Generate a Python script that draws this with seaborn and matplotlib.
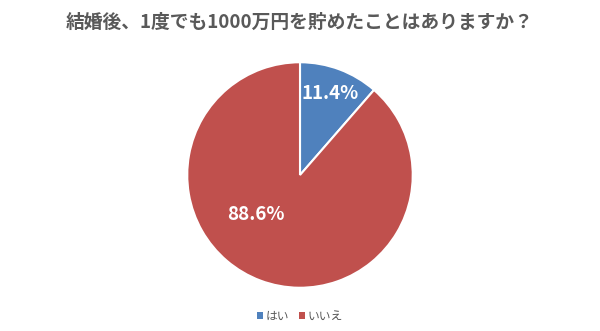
import matplotlib
matplotlib.use("Agg")
import matplotlib.pyplot as plt
import seaborn as sns
import numpy as np
from matplotlib.patches import Patch

categories = ["はい", "いいえ"]
values = [11.4, 88.6]
colors = ["#4F81BD", "#C0504D"]
title = "結婚後、1度でも1000万円を貯めたことはありますか？"

sns.set_theme(style="white")
plt.rcParams['font.family'] = ['Noto Sans CJK JP', 'DejaVu Sans']

fig = plt.figure(figsize=(6.0, 3.31), dpi=100)
W, H = 600, 331
cx, cy, r = 300, 175, 115
ax = fig.add_axes([(cx - r) / W, (H - cy - r) / H, 2 * r / W, 2 * r / H])
wedges, texts, autotexts = ax.pie(
    values, colors=colors, startangle=90, counterclock=False,
    radius=1.0, autopct=lambda p: f"{p:.1f}%", pctdistance=0.77,
    wedgeprops=dict(edgecolor="white", linewidth=1.5),
    textprops=dict(color="white", fontsize=13.5, fontweight="bold"))
ax.set_xlim(-1.02, 1.02)
ax.set_ylim(-1.02, 1.02)
ax.set_aspect("equal")
ax.axis("off")
# move the large-slice label like Excel's best fit
autotexts[1].set_position((-0.39, -0.35))

fig.text(0.5, 1 - 22 / H, title, ha="center", va="center",
         fontsize=13.5, fontweight="bold", color="#595959")

handles = [Patch(facecolor=c, edgecolor="none") for c in colors]
fig.legend(handles, categories, loc="center", bbox_to_anchor=(0.5, 1 - 316 / H),
           ncol=2, frameon=False, fontsize=8.5, handlelength=0.5, handleheight=0.5,
           handletextpad=0.2, columnspacing=0.9, labelcolor="#595959")

fig.savefig("out.png", dpi=100, facecolor="white")
